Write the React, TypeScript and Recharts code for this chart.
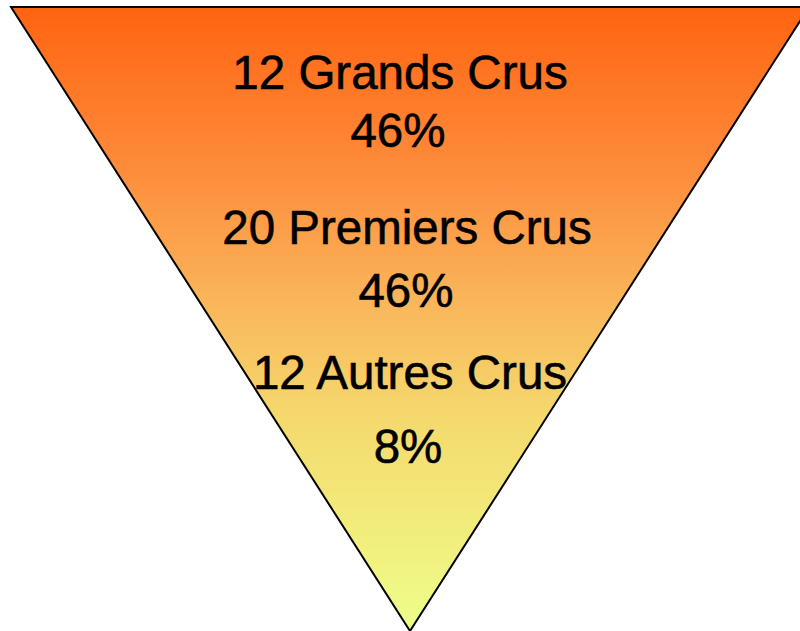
import { Customized, Funnel, FunnelChart } from "recharts";

const categories = ["12 Grands Crus", "20 Premiers Crus", "12 Autres Crus"];
const shares = [46, 46, 8];
const totalValue = [100];

const W = 820;
const H = 631;

// where each label block sits (line 1 baseline, line 2 baseline, centre x)
const labelPos = [
  { x: 400, y1: 89, y2: 147, x2: 398 },
  { x: 407, y1: 244, y2: 307, x2: 406 },
  { x: 410, y1: 389, y2: 463, x2: 408 },
];

const data = totalValue.map((v) => ({ name: "Crus", value: v, fill: "url(#crusFill)" }));

function Labels() {
  return (
    <g
      fontFamily="'Liberation Sans', Arial, sans-serif"
      fontSize={47.5}
      fill="#000"
      stroke="#000"
      strokeWidth={0.6}
    >
      {categories.map((c, i) => (
        <g key={c}>
          <text x={labelPos[i].x} y={labelPos[i].y1} textAnchor="middle">
            {c}
          </text>
          <text x={labelPos[i].x2} y={labelPos[i].y2} textAnchor="middle">
            {shares[i]}%
          </text>
        </g>
      ))}
    </g>
  );
}

export default function App() {
  return (
    <div style={{ position: "absolute", left: 0, top: 0, width: 800, height: H, overflow: "hidden" }}>
      <FunnelChart width={W} height={H} margin={{ top: 7, right: 11, left: 11, bottom: 0 }}>
        <defs>
          <linearGradient id="crusFill" x1="0" y1="7" x2="0" y2="631" gradientUnits="userSpaceOnUse">
            <stop offset="0" stopColor="#ff6410" />
            <stop offset="0.25" stopColor="#fe8a3a" />
            <stop offset="0.5" stopColor="#f9bb5e" />
            <stop offset="0.65" stopColor="#f5d86c" />
            <stop offset="1" stopColor="#eeff8a" />
          </linearGradient>
        </defs>
        <Funnel
          dataKey="value"
          data={data}
          lastShapeType="triangle"
          stroke="#000"
          strokeWidth={2}
          isAnimationActive={false}
        />
        <Customized component={Labels} />
      </FunnelChart>
    </div>
  );
}
